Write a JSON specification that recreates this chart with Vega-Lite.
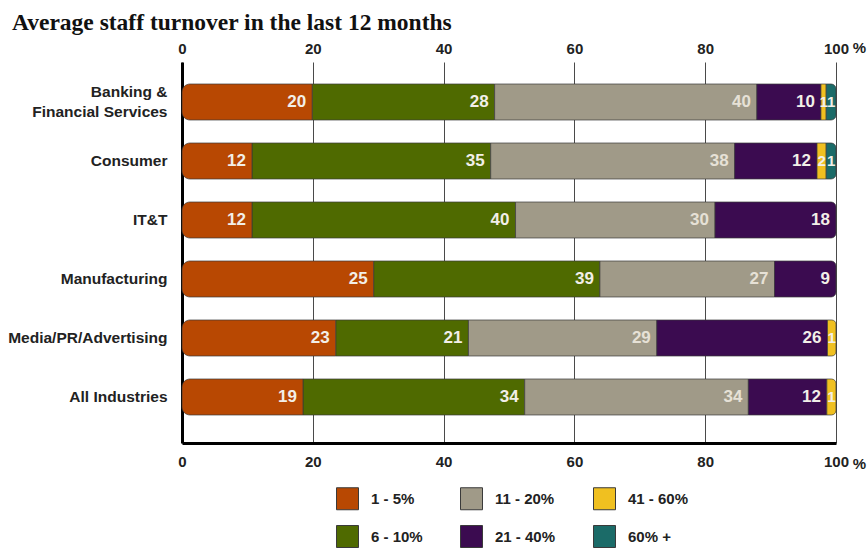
{
  "$schema": "https://vega.github.io/schema/vega-lite/v6.json",
  "width": 654,
  "height": 381,
  "autosize": "none",
  "padding": {"left": 182, "top": 62, "right": 31, "bottom": 106},
  "background": "white",
  "title": {
    "text": "Average staff turnover in the last 12 months",
    "anchor": "start",
    "frame": "group",
    "font": "Liberation Serif",
    "fontSize": 23.5,
    "fontWeight": "bold",
    "color": "#111111",
    "dx": -170,
    "offset": 6
  },
  "config": {
    "view": {"stroke": null},
    "axis": {"labelFont": "Liberation Sans", "labelFontSize": 15, "labelFontWeight": "bold", "labelColor": "#222222"},
    "legend": {"labelFont": "Liberation Sans", "labelFontSize": 15, "labelFontWeight": "bold", "labelColor": "#222222"}
  },
  "data": {
    "values": [
      {"industry": "Banking & Financial Services", "band": "1 - 5%", "share": 19.9, "label": "20"},
      {"industry": "Banking & Financial Services", "band": "6 - 10%", "share": 27.9, "label": "28"},
      {"industry": "Banking & Financial Services", "band": "11 - 20%", "share": 40.1, "label": "40"},
      {"industry": "Banking & Financial Services", "band": "21 - 40%", "share": 9.8, "label": "10"},
      {"industry": "Banking & Financial Services", "band": "41 - 60%", "share": 0.8, "label": "1"},
      {"industry": "Banking & Financial Services", "band": "60% +", "share": 1.5, "label": "1"},
      {"industry": "Consumer", "band": "1 - 5%", "share": 10.7, "label": "12"},
      {"industry": "Consumer", "band": "6 - 10%", "share": 36.5, "label": "35"},
      {"industry": "Consumer", "band": "11 - 20%", "share": 37.3, "label": "38"},
      {"industry": "Consumer", "band": "21 - 40%", "share": 12.6, "label": "12"},
      {"industry": "Consumer", "band": "41 - 60%", "share": 1.4, "label": "2"},
      {"industry": "Consumer", "band": "60% +", "share": 1.5, "label": "1"},
      {"industry": "IT&T", "band": "1 - 5%", "share": 10.7, "label": "12"},
      {"industry": "IT&T", "band": "6 - 10%", "share": 40.3, "label": "40"},
      {"industry": "IT&T", "band": "11 - 20%", "share": 30.5, "label": "30"},
      {"industry": "IT&T", "band": "21 - 40%", "share": 18.5, "label": "18"},
      {"industry": "Manufacturing", "band": "1 - 5%", "share": 29.3, "label": "25"},
      {"industry": "Manufacturing", "band": "6 - 10%", "share": 34.6, "label": "39"},
      {"industry": "Manufacturing", "band": "11 - 20%", "share": 26.7, "label": "27"},
      {"industry": "Manufacturing", "band": "21 - 40%", "share": 9.4, "label": "9"},
      {"industry": "Media/PR/Advertising", "band": "1 - 5%", "share": 23.5, "label": "23"},
      {"industry": "Media/PR/Advertising", "band": "6 - 10%", "share": 20.3, "label": "21"},
      {"industry": "Media/PR/Advertising", "band": "11 - 20%", "share": 28.8, "label": "29"},
      {"industry": "Media/PR/Advertising", "band": "21 - 40%", "share": 26.1, "label": "26"},
      {"industry": "Media/PR/Advertising", "band": "41 - 60%", "share": 1.3, "label": "1"},
      {"industry": "All Industries", "band": "1 - 5%", "share": 18.5, "label": "19"},
      {"industry": "All Industries", "band": "6 - 10%", "share": 33.9, "label": "34"},
      {"industry": "All Industries", "band": "11 - 20%", "share": 34.2, "label": "34"},
      {"industry": "All Industries", "band": "21 - 40%", "share": 12.0, "label": "12"},
      {"industry": "All Industries", "band": "41 - 60%", "share": 1.4, "label": "1"}
    ]
  },
  "transform": [
    {"calculate": "indexof(['1 - 5%','6 - 10%','11 - 20%','21 - 40%','41 - 60%','60% +'], datum.band)", "as": "rank"},
    {"stack": "share", "groupby": ["industry"], "sort": [{"field": "rank", "order": "ascending"}], "as": ["x0", "x1"]},
    {"calculate": "(datum.x0 + datum.x1) / 2", "as": "xmid"}
  ],
  "encoding": {
    "y": {
      "field": "industry",
      "type": "nominal",
      "scale": {
        "domain": ["Banking & Financial Services", "Consumer", "IT&T", "Manufacturing", "Media/PR/Advertising", "All Industries"],
        "paddingInner": 0.39,
        "paddingOuter": 0.424,
        "align": 0.44
      },
      "axis": {
        "title": null,
        "ticks": false,
        "labelPadding": 15,
        "labelFontSize": 15.5,
        "domainColor": "#000000",
        "domainWidth": 3,
        "labelLineHeight": 20,
        "labelOffset": {"condition": {"test": "datum.value == 'Banking & Financial Services'", "value": -10}, "value": 0},
        "labelExpr": "datum.label == 'Banking & Financial Services' ? ['Banking &', 'Financial Services'] : datum.label"
      }
    }
  },
  "layer": [
    {
      "transform": [{"filter": "datum.x0 > 0.01 && datum.x1 < 99.99"}],
      "mark": {"type": "bar", "stroke": "#3a3a3a", "strokeWidth": 0.7},
      "encoding": {
        "x": {
          "field": "x0",
          "type": "quantitative",
          "scale": {"domain": [0, 100], "nice": false},
          "axis": {
            "orient": "bottom",
            "values": [0, 20, 40, 60, 80, 100],
            "labelFlush": false,
            "title": "%",
            "titleAngle": 0,
            "titleX": 677,
            "titleY": 20,
            "titleBaseline": "middle",
            "titleAlign": "center",
            "titleFont": "Liberation Sans",
            "titleFontSize": 15,
            "titleFontWeight": "bold",
            "titleColor": "#222222",
            "ticks": false,
            "labelPadding": 11,
            "domainColor": "#000000",
            "domainWidth": 3,
            "grid": true,
            "gridColor": "#4a4a4a",
            "gridWidth": 1,
            "gridOpacity": 1
          }
        },
        "x2": {"field": "x1"},
        "color": {
          "field": "band",
          "type": "nominal",
          "scale": {
            "domain": ["1 - 5%", "11 - 20%", "41 - 60%", "6 - 10%", "21 - 40%", "60% +"],
            "range": ["#b84802", "#a09a88", "#f0c020", "#4f6a00", "#3b0b50", "#1b6b68"]
          },
          "legend": {
            "title": null,
            "orient": "none",
            "legendX": 154,
            "legendY": 425,
            "columns": 3,
            "direction": "horizontal",
            "symbolType": "square",
            "symbolSize": 484,
            "symbolStrokeColor": "#7a7a7a",
            "symbolStrokeWidth": 1,
            "labelOffset": 12,
            "columnPadding": 35,
            "rowPadding": 11,
            "padding": 0
          }
        }
      }
    },
    {
      "transform": [{"filter": "datum.x0 <= 0.01"}],
      "mark": {"type": "bar", "stroke": "#3a3a3a", "strokeWidth": 0.7, "cornerRadiusTopLeft": 8, "cornerRadiusBottomLeft": 8},
      "encoding": {
        "x": {
          "field": "x0",
          "type": "quantitative",
          "axis": {
            "orient": "top",
            "values": [0, 20, 40, 60, 80, 100],
            "labelFlush": false,
            "title": "%",
            "titleAngle": 0,
            "titleX": 677,
            "titleY": -15,
            "titleBaseline": "middle",
            "titleAlign": "center",
            "titleFont": "Liberation Sans",
            "titleFontSize": 15,
            "titleFontWeight": "bold",
            "titleColor": "#222222",
            "ticks": false,
            "labelPadding": 6,
            "domain": false,
            "grid": false
          }
        },
        "x2": {"field": "x1"},
        "color": {"field": "band", "type": "nominal"}
      }
    },
    {
      "transform": [{"filter": "datum.x1 >= 99.99"}],
      "mark": {"type": "bar", "stroke": "#3a3a3a", "strokeWidth": 0.7, "cornerRadiusTopRight": 5, "cornerRadiusBottomRight": 5},
      "encoding": {
        "x": {"field": "x0", "type": "quantitative", "axis": null},
        "x2": {"field": "x1"},
        "color": {"field": "band", "type": "nominal"}
      }
    },
    {
      "transform": [{"filter": "datum.share >= 3"}],
      "mark": {"type": "text", "align": "right", "baseline": "middle", "dx": -6, "font": "Liberation Sans", "fontSize": 17, "fontWeight": "bold"},
      "encoding": {
        "x": {"field": "x1", "type": "quantitative", "axis": null},
        "text": {"field": "label"},
        "color": {
          "condition": {"test": "datum.band == '11 - 20%'", "value": "#e6e1d6"},
          "value": "#f2efe8"
        }
      }
    },
    {
      "transform": [{"filter": "datum.share < 3"}],
      "mark": {"type": "text", "align": "center", "baseline": "middle", "font": "Liberation Sans", "fontSize": 15, "fontWeight": "bold", "color": "#f2efe8"},
      "encoding": {
        "x": {"field": "xmid", "type": "quantitative", "axis": null},
        "text": {"field": "label"}
      }
    }
  ],
  "resolve": {"axis": {"x": "independent"}}
}
